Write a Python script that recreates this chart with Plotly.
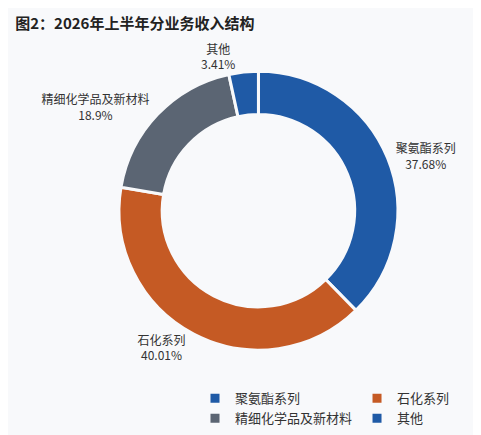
import plotly.graph_objects as go

labels = ["聚氨酯系列", "石化系列", "精细化学品及新材料", "其他"]
values = [37.68, 40.01, 18.9, 3.41]
colors = ["#1f5aa6", "#c55a24", "#5b6573", "#1f5aa6"]

fig = go.Figure(go.Pie(
    labels=labels,
    values=values,
    hole=0.69,
    sort=False,
    direction="clockwise",
    rotation=0,
    marker=dict(colors=colors, line=dict(color="#f8f9fb", width=3)),
    texttemplate="%{label}<br>%{value}%",
    textposition="outside",
    textfont=dict(size=12, color="#333"),
    hoverinfo="label+percent",
    domain=dict(x=[0.19, 0.9], y=[0.09, 0.93]),
))

fig.update_layout(
    width=481, height=435,
    paper_bgcolor="#f8f9fb",
    plot_bgcolor="#f8f9fb",
    font=dict(family="Noto Sans CJK SC, sans-serif"),
    margin=dict(l=10, r=10, t=40, b=30),
    title=dict(text="<b>图2：2026年上半年分业务收入结构</b>", x=0.015, y=0.975,
               xanchor="left", yanchor="top", font=dict(size=15, color="#222")),
    legend=dict(orientation="h", x=1, xanchor="right", y=-0.01, yanchor="top",
                font=dict(size=13, color="#333")),
)

fig.write_html("out.html")
